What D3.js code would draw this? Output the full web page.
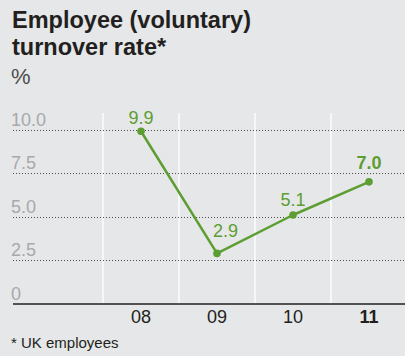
<!DOCTYPE html>
<html>
<head>
<meta charset="utf-8">
<script src="https://cdn.jsdelivr.net/npm/d3@7"></script>
<style>
  html, body { margin: 0; padding: 0; background: #e6e7e8; }
  svg { display: block; font-family: "Liberation Sans", Arial, Helvetica, sans-serif; }
</style>
</head>
<body>
<svg id="chart" width="405" height="356"></svg>
<script>
// Voluntary turnover rate among UK employees, by financial year
const years = ["08", "09", "10", "11"];
const rates = [9.9, 2.9, 5.1, 7.0];
const yTicks = [0, 2.5, 5.0, 7.5, 10.0];
const yTickLabels = ["0", "2.5", "5.0", "7.5", "10.0"];

const W = 405;
const plotTop = 113, plotBottom = 304;
const green = "#5c9e32";

const svg = d3.select("#chart");

// Title block
svg.append("text").attr("x", 12).attr("y", 28)
  .attr("font-size", 23.5).attr("font-weight", "bold").attr("fill", "#231f20")
  .text("Employee (voluntary)");
svg.append("text").attr("x", 12).attr("y", 55)
  .attr("font-size", 23.5).attr("font-weight", "bold").attr("fill", "#231f20")
  .text("turnover rate*");
svg.append("text").attr("x", 11).attr("y", 84)
  .attr("font-size", 22).attr("fill", "#4d4d4d")
  .text("%");

// Scales
const x = d3.scaleBand().domain(years).range([103, 407]);
const y = d3.scaleLinear().domain([0, 10]).range([plotBottom, plotBottom - 174.5]);

// Column separators
svg.append("g").selectAll("line")
  .data(years)
  .join("line")
  .attr("x1", d => x(d)).attr("x2", d => x(d))
  .attr("y1", plotTop).attr("y2", plotBottom)
  .attr("stroke", "#ffffff").attr("stroke-width", 1.3);

// Dotted gridlines and value-axis labels
const grid = svg.append("g");
grid.selectAll("line")
  .data(yTicks.filter(v => v > 0))
  .join("line")
  .attr("x1", 13).attr("x2", W)
  .attr("y1", d => Math.round(y(d)) + 0.5).attr("y2", d => Math.round(y(d)) + 0.5)
  .attr("stroke", "#4d4d4d").attr("stroke-width", 1)
  .attr("stroke-dasharray", "1,2");
grid.selectAll("text")
  .data(yTicks)
  .join("text")
  .attr("x", 11).attr("y", d => y(d) - 4)
  .attr("font-size", 18).attr("fill", "#a7a9ac")
  .text((d, i) => yTickLabels[i]);

// Baseline
svg.append("line")
  .attr("x1", 13).attr("x2", W)
  .attr("y1", plotBottom).attr("y2", plotBottom)
  .attr("stroke", "#231f20").attr("stroke-width", 1.6);

// Category axis
const xAxis = svg.append("g").attr("transform", `translate(0,${plotBottom})`)
  .call(d3.axisBottom(x).tickSize(0).tickPadding(0));
xAxis.select(".domain").remove();
xAxis.selectAll("text")
  .attr("dy", null).attr("y", 19)
  .attr("font-family", "inherit")
  .attr("font-size", 18)
  .attr("fill", "#231f20")
  .attr("font-weight", (d, i) => i === years.length - 1 ? "bold" : "normal");

// Line and points
const pts = years.map((d, i) => ({ year: d, v: rates[i] }));
const cx = d => x(d.year) + x.bandwidth() / 2;
svg.append("path")
  .datum(pts)
  .attr("fill", "none")
  .attr("stroke", green).attr("stroke-width", 2.5)
  .attr("stroke-linejoin", "round")
  .attr("d", d3.line().x(cx).y(d => y(d.v)));
svg.append("g").selectAll("circle")
  .data(pts)
  .join("circle")
  .attr("cx", cx).attr("cy", d => y(d.v)).attr("r", 3.8)
  .attr("fill", green);

// Value labels, nudged clear of the line
const labelDx = [0, 8.5, 0, 0];
const labelDy = [-7, -16, -9, -13];
svg.append("g").selectAll("text")
  .data(pts)
  .join("text")
  .attr("x", (d, i) => cx(d) + labelDx[i])
  .attr("y", (d, i) => y(d.v) + labelDy[i])
  .attr("text-anchor", "middle")
  .attr("font-size", 18)
  .attr("fill", green)
  .attr("font-weight", (d, i) => i === pts.length - 1 ? "bold" : "normal")
  .text(d => d3.format(".1f")(d.v));

// Footnote
svg.append("text").attr("x", 11).attr("y", 348)
  .attr("font-size", 15).attr("fill", "#231f20")
  .text("* UK employees");
</script>
</body>
</html>
